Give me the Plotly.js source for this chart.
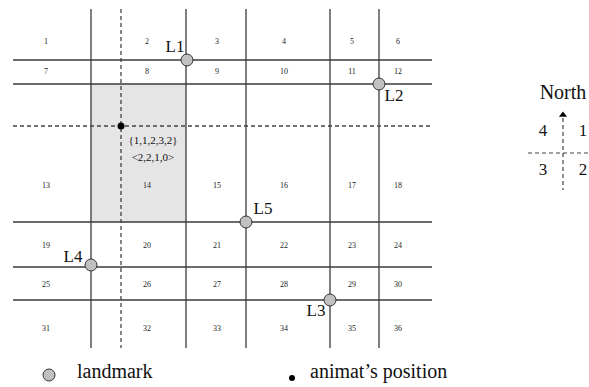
<!DOCTYPE html>
<html>
<head>
<meta charset="utf-8">
<script src="https://cdn.plot.ly/plotly-3.0.1.min.js"></script>
<style>html,body{margin:0;padding:0;background:#fff;}#chart{width:589px;height:387px;}</style>
</head>
<body>
<div id="chart"></div>
<script>
// Diagram coordinate system: x 0..589, y 0..387 (top to bottom)
const gridLeft = 13, gridRight = 432, gridTop = 9, gridBottom = 348;
const vLines = [91, 186, 246, 330, 379];
const hLines = [60, 84, 222, 267, 300];
const vDashed = [121];
const hDashed = [126];

const colX = [46, 147, 217, 284, 352, 398];
const rowY = [42, 72, 186, 246, 285, 329];
const cellNumbers = [
  [1, 2, 3, 4, 5, 6],
  [7, 8, 9, 10, 11, 12],
  [13, 14, 15, 16, 17, 18],
  [19, 20, 21, 22, 23, 24],
  [25, 26, 27, 28, 29, 30],
  [31, 32, 33, 34, 35, 36]
];

const shadedX = [91, 186];
const shadedY = [84, 222];

const landmarkNames = ["L1", "L2", "L3", "L4", "L5"];
const landmarkX = [187, 379, 330, 91, 246];
const landmarkY = [60, 84, 300, 265, 222];
const landmarkLabelX = [175, 394, 316, 73, 263];
const landmarkLabelY = [48, 97, 312, 258, 210];

const animatX = [121];
const animatY = [126];
const cellInfo = ["{1,1,2,3,2}", "<2,2,1,0>"];
const cellInfoX = [153, 153];
const cellInfoY = [141, 158];

// Compass inset
const compassX = 563, compassY = 153;
const compassTop = 118, compassBottom = 190, compassLeft = 528, compassRight = 589;
const quadrantLabels = ["4", "1", "3", "2"];
const quadrantX = [543, 583, 543, 583];
const quadrantY = [132, 132, 171, 171];

// Legend
const legendLabels = ["landmark", "animat\u2019s position"];
const legendMarkerX = [49, 292];
const legendMarkerY = [375, 378];
const legendTextX = [77, 310];
const legendTextY = [373, 373];

const serif = "Liberation Serif";
const lineColor = "#3a3a3a";
const traces = [];

// shaded cell
traces.push({
  x: [shadedX[0], shadedX[1], shadedX[1], shadedX[0], shadedX[0]],
  y: [shadedY[0], shadedY[0], shadedY[1], shadedY[1], shadedY[0]],
  mode: "lines", fill: "toself", fillcolor: "#e5e5e5",
  line: {width: 0, color: "rgba(0,0,0,0)"}, hoverinfo: "skip"
});

// solid grid lines
let sx = [], sy = [];
vLines.forEach(v => { sx.push(v, v, null); sy.push(gridTop, gridBottom, null); });
hLines.forEach(h => { sx.push(gridLeft, gridRight, null); sy.push(h, h, null); });
traces.push({x: sx, y: sy, mode: "lines", line: {color: lineColor, width: 1.3}, hoverinfo: "skip"});

// dashed lines
let dx = [], dy = [];
vDashed.forEach(v => { dx.push(v, v, null); dy.push(gridTop, gridBottom, null); });
hDashed.forEach(h => { dx.push(gridLeft, gridRight, null); dy.push(h, h, null); });
traces.push({x: dx, y: dy, mode: "lines", line: {color: "#444", width: 1.3, dash: "4px,3px"}, hoverinfo: "skip"});

// cell numbers
let cx = [], cy = [], ct = [];
cellNumbers.forEach((row, r) => row.forEach((n, c) => { cx.push(colX[c]); cy.push(rowY[r]); ct.push(String(n)); }));
traces.push({x: cx, y: cy, text: ct, mode: "text", textposition: "middle center",
  textfont: {family: serif, size: 8, color: "#222"}, hoverinfo: "skip"});

// cell info text
traces.push({x: cellInfoX, y: cellInfoY, text: cellInfo, mode: "text", textposition: "middle center",
  textfont: {family: serif, size: 11, color: "#111"}, hoverinfo: "skip"});

// landmarks
traces.push({x: landmarkX, y: landmarkY, mode: "markers",
  marker: {size: 12, color: "#c0c0c0", line: {color: "#333", width: 1}}, hoverinfo: "skip"});
traces.push({x: landmarkLabelX, y: landmarkLabelY, text: landmarkNames, mode: "text", textposition: "middle center",
  textfont: {family: serif, size: 17, color: "#111"}, hoverinfo: "skip"});

// animat
traces.push({x: animatX, y: animatY, mode: "markers", marker: {size: 7, color: "#000"}, hoverinfo: "skip"});

// compass
traces.push({x: [compassX, compassX, null, compassLeft, compassRight],
  y: [compassTop, compassBottom, null, compassY, compassY],
  mode: "lines", line: {color: "#444", width: 1.2, dash: "4px,3px"}, hoverinfo: "skip"});
traces.push({x: [compassX], y: [compassTop - 3], mode: "markers",
  marker: {symbol: "triangle-up", size: 7, color: "#000"}, hoverinfo: "skip"});
traces.push({x: [563], y: [94], text: ["North"], mode: "text", textposition: "middle center",
  textfont: {family: serif, size: 20, color: "#111"}, hoverinfo: "skip"});
traces.push({x: quadrantX, y: quadrantY, text: quadrantLabels, mode: "text", textposition: "middle center",
  textfont: {family: serif, size: 17, color: "#111"}, hoverinfo: "skip"});

// legend
traces.push({x: [legendMarkerX[0]], y: [legendMarkerY[0]], mode: "markers",
  marker: {size: 12, color: "#c0c0c0", line: {color: "#333", width: 1}}, hoverinfo: "skip"});
traces.push({x: [legendMarkerX[1]], y: [legendMarkerY[1]], mode: "markers", marker: {size: 6, color: "#000"}, hoverinfo: "skip"});
traces.push({x: legendTextX, y: legendTextY, text: legendLabels, mode: "text", textposition: "middle right",
  textfont: {family: serif, size: 20, color: "#111"}, hoverinfo: "skip"});

const layout = {
  width: 589, height: 387,
  margin: {l: 0, r: 0, t: 0, b: 0},
  paper_bgcolor: "#fff", plot_bgcolor: "#fff",
  font: {family: serif},
  showlegend: false,
  xaxis: {range: [0, 589], visible: false, fixedrange: true},
  yaxis: {range: [387, 0], visible: false, fixedrange: true}
};
Plotly.newPlot("chart", traces, layout, {staticPlot: true});
</script>
</body>
</html>
